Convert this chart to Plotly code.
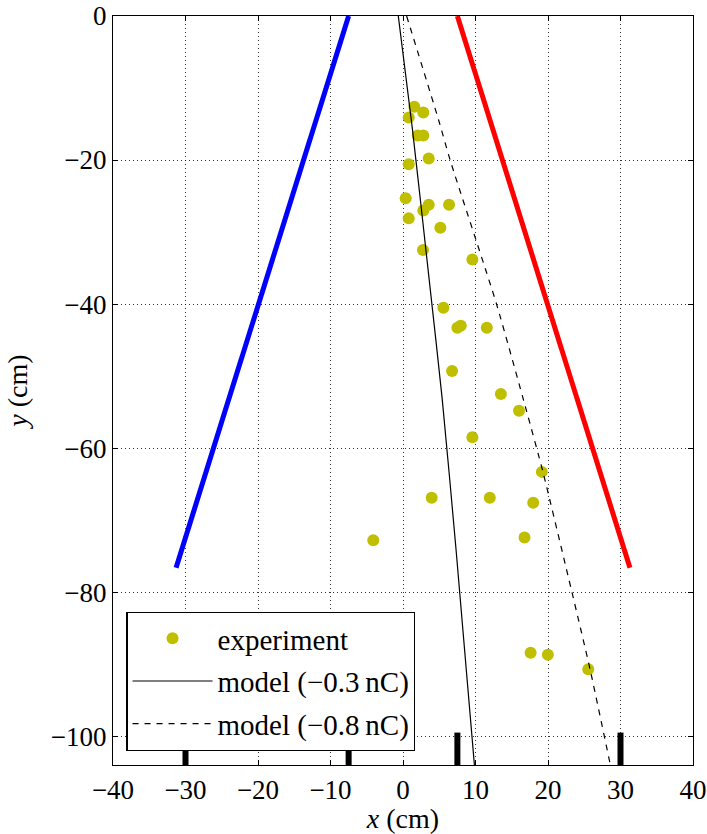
import plotly.graph_objects as go

# experiment points (cm)
exp_x = [1.56, 2.8, 0.79, 2.03, 2.8, 3.55, 0.79, 0.37, 3.55, 6.35, 2.8, 0.79, 5.15, 2.76, 9.57,
         5.57, 7.5, 7.97, 11.56, 6.77, 13.5, 16.0, 9.57, 19.15, 3.96, 11.97, 17.96, 16.76, -4.1,
         17.6, 19.98, 25.55]
exp_y = [-12.6, -13.4, -14.1, -16.6, -16.6, -19.8, -20.6, -25.3, -26.2, -26.2, -27.0, -28.1, -29.4,
         -32.5, -33.8, -40.5, -43.3, -43.0, -43.3, -49.3, -52.5, -54.8, -58.5, -63.3, -66.9, -66.9,
         -67.6, -72.4, -72.8, -88.4, -88.7, -90.7]

# model curves
m03_x = [-0.65, 1.3, 3.6, 5.4, 7.3, 9.85]
m03_y = [0, -15.7, -36.5, -53.1, -73.9, -104]
m08_x = [0.5, 4.9, 6.5, 12.9, 17.0, 19.3, 23.3, 25.8, 28.6]
m08_y = [0, -14.4, -20, -40, -54.7, -63.3, -80, -90.7, -104]

# boundary lines
blue_x = [-7.5, -31.3]
blue_y = [0, -76.6]
red_x = [7.5, 31.3]
red_y = [0, -76.6]

# detector marks at the bottom
det_x = [-30, -7.5, 7.5, 30]
det_y0 = -104
det_y1 = -99.5

xticks = [-40, -30, -20, -10, 0, 10, 20, 30, 40]
yticks = [-100, -80, -60, -40, -20, 0]

FONT = "Liberation Serif"

fig = go.Figure()
fig.add_trace(go.Scatter(x=blue_x, y=blue_y, mode="lines", line=dict(color="#0000ff", width=5),
                         showlegend=False))
fig.add_trace(go.Scatter(x=red_x, y=red_y, mode="lines", line=dict(color="#ff0000", width=5),
                         showlegend=False))
dx, dy = [], []
for xv in det_x:
    dx += [xv, xv, None]
    dy += [det_y0, det_y1, None]
fig.add_trace(go.Scatter(x=dx, y=dy, mode="lines", line=dict(color="black", width=6),
                         showlegend=False))
fig.add_trace(go.Scatter(x=exp_x, y=exp_y, mode="markers", name="experiment", legendgroup="a",
                         marker=dict(color="#bfbf00", size=12, line=dict(width=0))))
fig.add_trace(go.Scatter(x=m03_x, y=m03_y, mode="lines", name="model (\u22120.3\u2009nC)",
                         legendgroup="b",
                         line=dict(color="black", width=1.2, shape="spline", smoothing=0.6)))
fig.add_trace(go.Scatter(x=m08_x, y=m08_y, mode="lines", name="model (\u22120.8\u2009nC)",
                         legendgroup="c",
                         line=dict(color="black", width=1.2, dash="6px,6px", shape="spline",
                                   smoothing=0.6)))

axis_common = dict(
    showline=True, linecolor="black", linewidth=1.2, mirror="allticks",
    ticks="inside", ticklen=5, tickcolor="black", tickwidth=1,
    showgrid=True, gridcolor="rgba(0,0,0,0.8)", griddash="1px,3px", gridwidth=1,
    zeroline=False, tickfont=dict(family=FONT, size=27, color="black"),
)
fig.update_xaxes(range=[-40, 40], tickvals=xticks, **axis_common,
                 title=dict(text="<i>x</i> (cm)", font=dict(family=FONT, size=28, color="black"),
                            standoff=0))
fig.update_yaxes(range=[-104, 0], tickvals=yticks, **axis_common,
                 title=dict(text="<i>y</i> (cm)", font=dict(family=FONT, size=28, color="black"),
                            standoff=14))

fig.update_layout(
    width=707, height=834,
    margin=dict(l=113, r=14, t=16, b=69, autoexpand=False),
    paper_bgcolor="white", plot_bgcolor="white",
    legend=dict(x=0.023, y=0.019, xanchor="left", yanchor="bottom",
                bgcolor="white", bordercolor="black", borderwidth=1.2,
                traceorder="grouped", tracegroupgap=2, itemwidth=80,
                font=dict(family=FONT, size=29, color="black")),
)
fig.write_html("out.html")
